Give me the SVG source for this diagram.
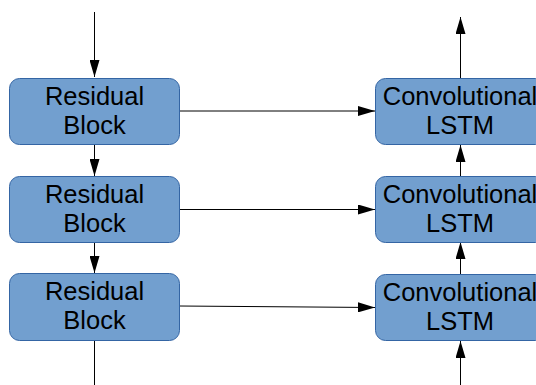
<svg xmlns="http://www.w3.org/2000/svg" width="536" height="385" viewBox="0 0 536 385">
<style>
.box{fill:#729fcf;stroke:#3465a4;stroke-width:1}
.t{font-family:"Liberation Sans",Arial,sans-serif;font-size:25.5px;fill:#000;text-anchor:middle}
.c{stroke:#000;stroke-width:1;fill:none}
</style>
<defs>
<marker id="ah" viewBox="0 0 17 10" refX="17" refY="5" markerWidth="17" markerHeight="10" markerUnits="userSpaceOnUse" orient="auto">
<path d="M0,0 L17,5 L0,10 Z" fill="#000"/>
</marker>
</defs>
<g id="connectors">
<line class="c" x1="94.5" y1="12" x2="94.5" y2="77" marker-end="url(#ah)"/>
<line class="c" x1="94.5" y1="145" x2="94.5" y2="176" marker-end="url(#ah)"/>
<line class="c" x1="94.5" y1="242" x2="94.5" y2="273" marker-end="url(#ah)"/>
<line class="c" x1="94.5" y1="341" x2="94.5" y2="385"/>
<line class="c" x1="179" y1="111" x2="375" y2="111" marker-end="url(#ah)"/>
<line class="c" x1="179" y1="209.5" x2="375" y2="209.5" marker-end="url(#ah)"/>
<line class="c" x1="179" y1="306" x2="375" y2="307.5" marker-end="url(#ah)"/>
<line class="c" x1="460.5" y1="78" x2="460.5" y2="17" marker-end="url(#ah)"/>
<line class="c" x1="460.5" y1="176" x2="460.5" y2="145" marker-end="url(#ah)"/>
<line class="c" x1="460.5" y1="274" x2="460.5" y2="242" marker-end="url(#ah)"/>
<line class="c" x1="460.5" y1="385" x2="460.5" y2="341" marker-end="url(#ah)"/>
</g>
<g id="rb1"><rect class="box" x="9.5" y="78.5" width="170" height="66" rx="10"/><text class="t" x="94.5" y="105">Residual</text><text class="t" x="94.5" y="134">Block</text></g>
<g id="rb2"><rect class="box" x="9.5" y="176.5" width="170" height="66" rx="10"/><text class="t" x="94.5" y="203">Residual</text><text class="t" x="94.5" y="232">Block</text></g>
<g id="rb3"><rect class="box" x="9.5" y="273.5" width="170" height="67" rx="10"/><text class="t" x="94.5" y="300">Residual</text><text class="t" x="94.5" y="329">Block</text></g>
<g id="cl1"><rect class="box" x="375.5" y="78.5" width="170" height="66" rx="10"/><text class="t" x="460" y="105">Convolutional</text><text class="t" x="460" y="134">LSTM</text></g>
<g id="cl2"><rect class="box" x="375.5" y="176.5" width="170" height="66" rx="10"/><text class="t" x="460" y="203">Convolutional</text><text class="t" x="460" y="232">LSTM</text></g>
<g id="cl3"><rect class="box" x="375.5" y="274.5" width="170" height="66" rx="10"/><text class="t" x="460" y="301">Convolutional</text><text class="t" x="460" y="330">LSTM</text></g>
</svg>
